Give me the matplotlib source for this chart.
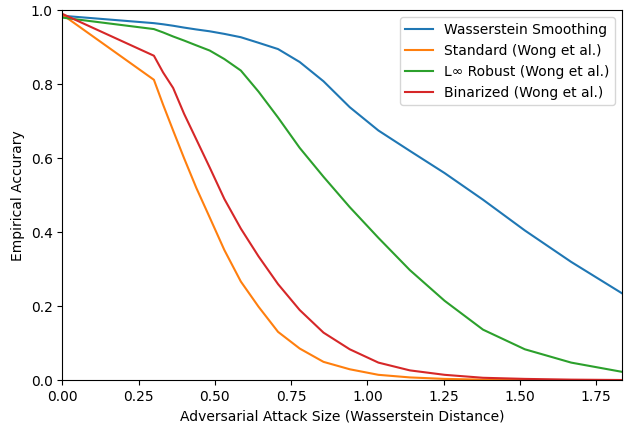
import matplotlib
matplotlib.use('Agg')
import matplotlib.pyplot as plt

# Attack sizes (Wasserstein radius)
eps = [0.0, 0.300, 0.330, 0.363, 0.399, 0.439, 0.483, 0.531, 0.585, 0.643,
       0.707, 0.778, 0.856, 0.942, 1.036, 1.139, 1.253, 1.379, 1.516, 1.668, 1.835]

acc_wasserstein = [0.985, 0.965, 0.962, 0.958, 0.953, 0.948, 0.943, 0.936, 0.927, 0.912,
                   0.895, 0.860, 0.808, 0.738, 0.675, 0.620, 0.560, 0.488, 0.405, 0.320, 0.235]
acc_standard = [0.988, 0.812, 0.745, 0.675, 0.600, 0.520, 0.440, 0.352, 0.267, 0.199,
                0.131, 0.086, 0.050, 0.030, 0.015, 0.008, 0.004, 0.002, 0.001, 0.0, 0.0]
acc_linf = [0.980, 0.949, 0.940, 0.929, 0.918, 0.905, 0.891, 0.868, 0.837, 0.780,
            0.710, 0.628, 0.550, 0.468, 0.385, 0.298, 0.215, 0.137, 0.084, 0.048, 0.023]
acc_binarized = [0.990, 0.877, 0.832, 0.790, 0.720, 0.651, 0.575, 0.490, 0.410, 0.335,
                 0.260, 0.190, 0.129, 0.084, 0.048, 0.027, 0.015, 0.007, 0.004, 0.002, 0.001]

labels = ['Wasserstein Smoothing', 'Standard (Wong et al.)',
          'L\u221e Robust (Wong et al.)', 'Binarized (Wong et al.)']

fig = plt.figure(figsize=(6.24, 4.25), dpi=100)
ax = fig.add_axes([0.100, 0.105, 0.897, 0.871])

for serie, nome in zip([acc_wasserstein, acc_standard, acc_linf, acc_binarized], labels):
    ax.plot(eps, serie, label=nome)

ax.set_xlim(0, 1.835)
ax.set_ylim(0, 1.0)
ax.set_xlabel('Adversarial Attack Size (Wasserstein Distance)')
ax.set_ylabel('Empirical Accurary')
ax.legend(loc='upper right')

plt.savefig('out.png', dpi=100)
plt.close()
